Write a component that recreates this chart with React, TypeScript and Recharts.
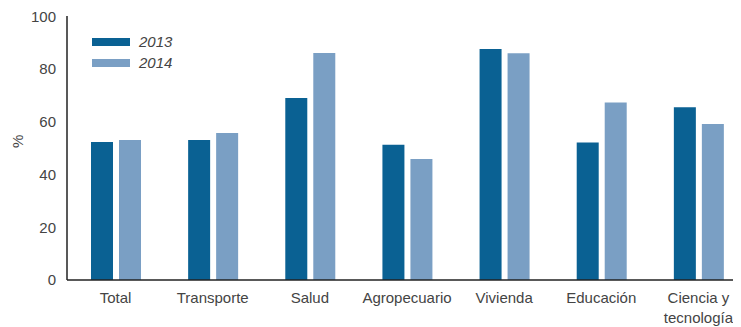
import React from "react";
import { BarChart, Bar, XAxis, YAxis, Text } from "recharts";

const categories = [
  "Total",
  "Transporte",
  "Salud",
  "Agropecuario",
  "Vivienda",
  "Educación",
  "Ciencia y tecnología",
];
const values2013 = [52.3, 53.0, 68.9, 51.2, 87.5, 52.1, 65.4];
const values2014 = [53.0, 55.7, 86.0, 45.8, 85.9, 67.2, 59.1];
const yTicks = [0, 20, 40, 60, 80, 100];

const DARK = "#0a6193";
const LIGHT = "#7a9fc4";
const TEXT = "#444";
const FONT = "'Liberation Sans', Arial, sans-serif";

const series = [
  { key: "y2013", name: "2013", color: DARK },
  { key: "y2014", name: "2014", color: LIGHT },
];

const data = categories.map((name, i) => ({
  name,
  y2013: values2013[i],
  y2014: values2014[i],
}));

const CategoryTick = (props: any) => {
  const { x, y, payload } = props;
  return (
    <Text
      x={x}
      y={y}
      width={95}
      textAnchor="middle"
      verticalAnchor="start"
      fill={TEXT}
      fontSize={15}
      fontFamily={FONT}
      lineHeight={20}
    >
      {payload.value}
    </Text>
  );
};

const SeriesLegend = () => (
  <div
    style={{
      position: "absolute",
      top: 23,
      left: 84,
      fontFamily: FONT,
      fontSize: 15,
      fontStyle: "italic",
      color: TEXT,
    }}
  >
    {series.map((s) => (
      <div key={s.key} style={{ display: "flex", alignItems: "center", height: 21 }}>
        <span
          style={{
            display: "inline-block",
            width: 38,
            height: 8,
            background: s.color,
            marginRight: 9,
          }}
        />
        {s.name}
      </div>
    ))}
  </div>
);

export default function App() {
  return (
    <div style={{ position: "relative", width: 733, overflow: "hidden" }}>
      <BarChart
        width={745}
        height={319}
        data={data}
        margin={{ top: 8, right: 6, bottom: 0, left: 0 }}
        barSize={22}
        barGap={6}
      >
        <XAxis
          dataKey="name"
          axisLine={{ stroke: "#222", strokeWidth: 1.5 }}
          tickLine={false}
          tickMargin={6}
          height={47}
          interval={0}
          tick={<CategoryTick />}
        />
        <YAxis
          domain={[0, 100]}
          ticks={yTicks}
          width={59}
          axisLine={{ stroke: "#222", strokeWidth: 1.5 }}
          tickLine={false}
          tickMargin={5}
          tick={{ fill: TEXT, fontSize: 15, fontFamily: FONT }}
          label={{
            value: "%",
            angle: -90,
            position: "insideLeft",
            offset: 10,
            fill: TEXT,
            fontSize: 15,
            fontFamily: FONT,
          }}
        />
        {series.map((s) => (
          <Bar
            key={s.key}
            dataKey={s.key}
            name={s.name}
            fill={s.color}
            isAnimationActive={false}
          />
        ))}
      </BarChart>
      <SeriesLegend />
    </div>
  );
}
